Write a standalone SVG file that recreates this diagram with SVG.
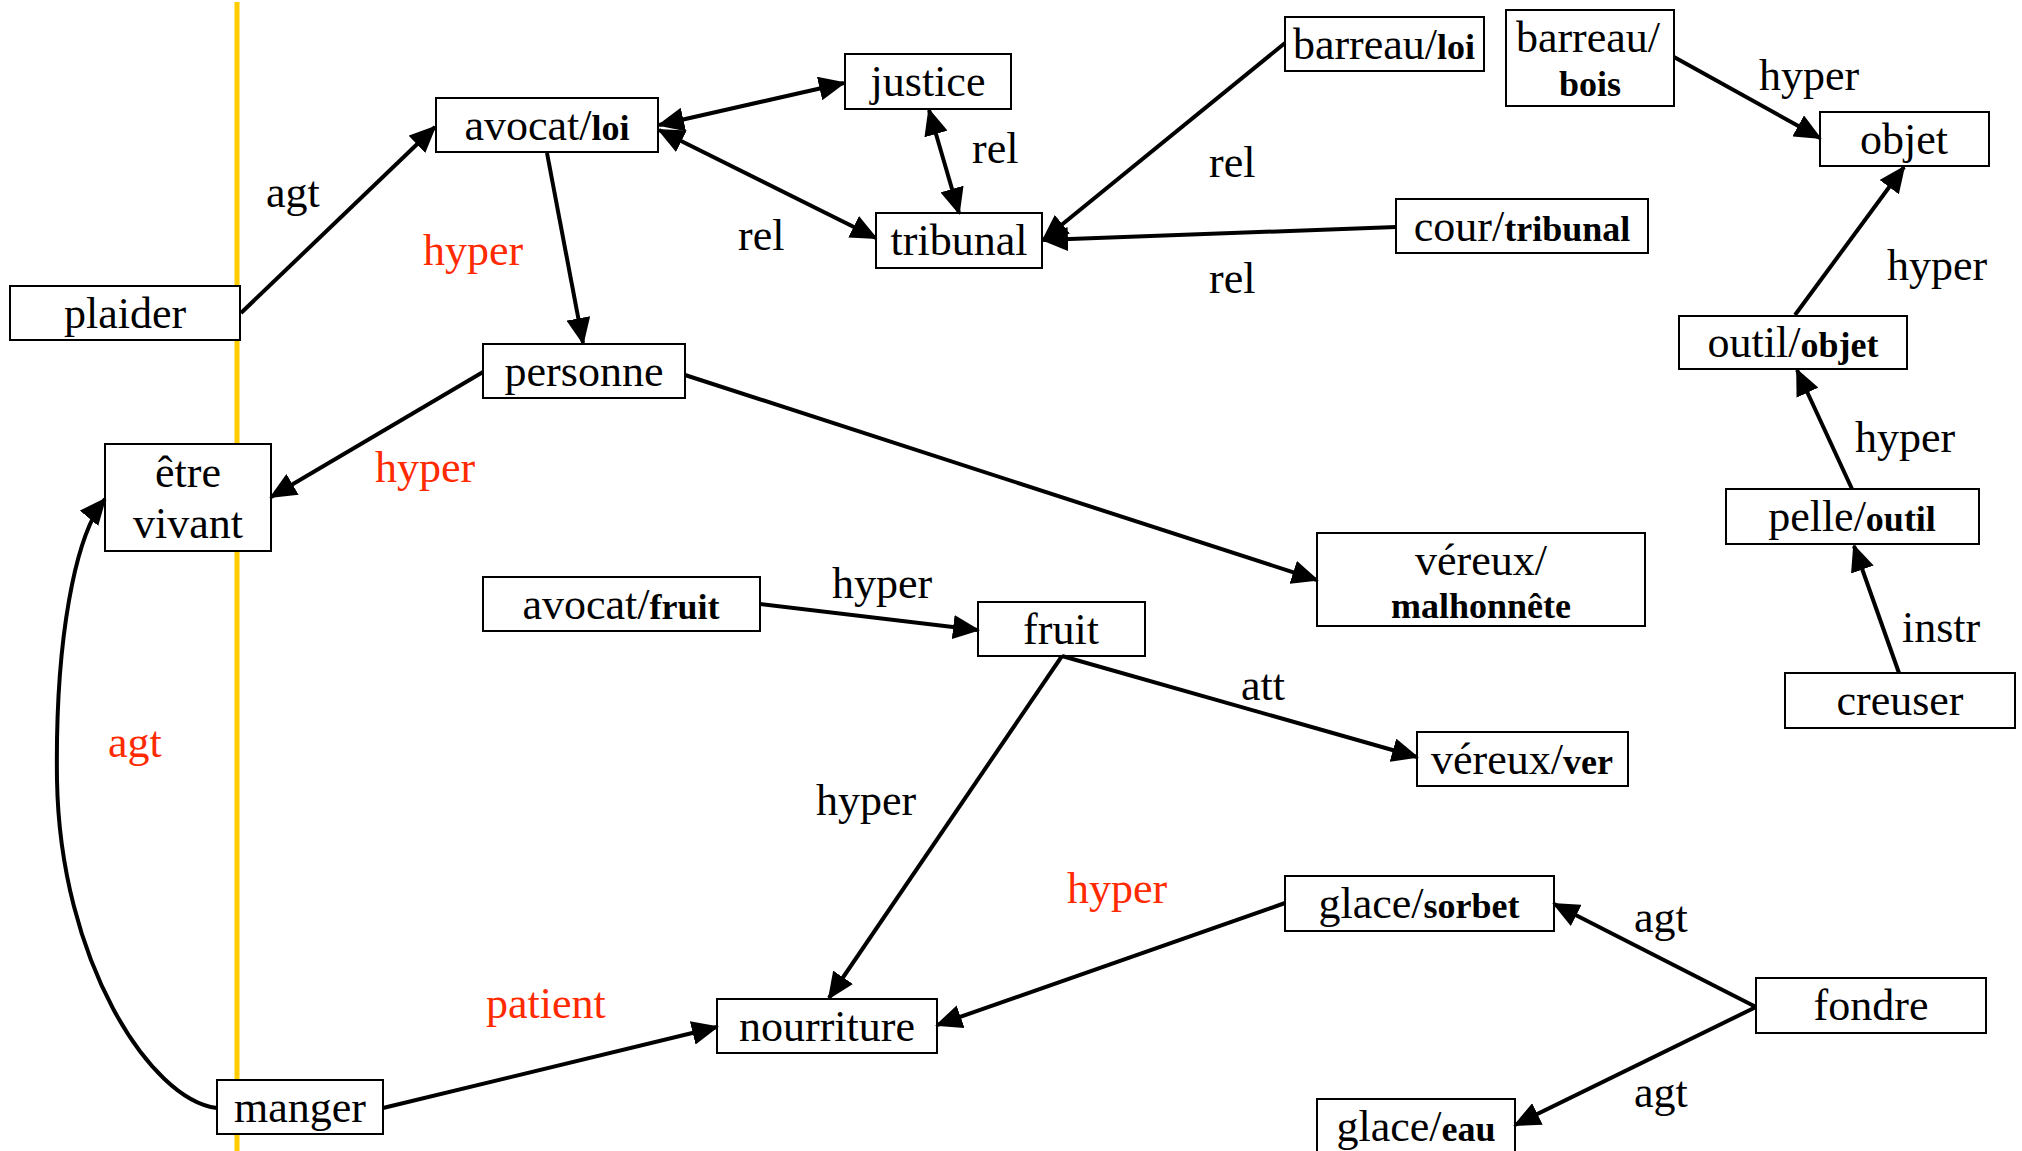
<svg xmlns="http://www.w3.org/2000/svg" width="2022" height="1151" viewBox="0 0 2022 1151">
  <defs>
    <marker id="head" markerUnits="userSpaceOnUse" markerWidth="27" markerHeight="24" refX="25" refY="12" orient="auto-start-reverse">
      <path d="M0,0 L27,12 L0,24 z" fill="#000"/>
    </marker>
    <style>
      .box { fill: #fff; stroke: #000; stroke-width: 2; }
      .t { font-family: "Liberation Serif", "Times New Roman", serif; font-size: 44px; fill: #000; text-anchor: middle; }
      .b { font-weight: bold; font-size: 36px; }
      .lbl { font-family: "Liberation Serif", "Times New Roman", serif; font-size: 44px; fill: #000; }
      .red { fill: #FF2A00; }
      .edge { fill: none; stroke: #000; stroke-width: 4; marker-end: url(#head); }
      .both { marker-start: url(#head); }
    </style>
  </defs>

  <rect width="2022" height="1151" fill="#fff"/>

  <!-- vertical separator -->
  <line x1="237" y1="2" x2="237" y2="1151" stroke="#FFCC00" stroke-width="5"/>

  <!-- nodes -->
  <g id="plaider"><rect class="box" x="10" y="286" width="230" height="54"/><text class="t" x="125" y="328">plaider</text></g>
  <g id="avocat-loi"><rect class="box" x="436" y="98" width="222" height="54"/><text class="t" x="547" y="140">avocat/<tspan class="b">loi</tspan></text></g>
  <g id="justice"><rect class="box" x="845" y="54" width="166" height="55"/><text class="t" x="928" y="96">justice</text></g>
  <g id="tribunal"><rect class="box" x="876" y="213" width="166" height="55"/><text class="t" x="959" y="255">tribunal</text></g>
  <g id="barreau-loi"><rect class="box" x="1285" y="17" width="199" height="54"/><text class="t" x="1384" y="59">barreau/<tspan class="b">loi</tspan></text></g>
  <g id="barreau-bois"><rect class="box" x="1506" y="10" width="168" height="96"/><text class="t" x="1588" y="52">barreau/</text><text class="t b" x="1590" y="96">bois</text></g>
  <g id="objet"><rect class="box" x="1820" y="112" width="169" height="54"/><text class="t" x="1904" y="154">objet</text></g>
  <g id="cour-tribunal"><rect class="box" x="1396" y="199" width="252" height="54"/><text class="t" x="1522" y="241">cour/<tspan class="b">tribunal</tspan></text></g>
  <g id="outil-objet"><rect class="box" x="1679" y="316" width="228" height="53"/><text class="t" x="1793" y="357">outil/<tspan class="b">objet</tspan></text></g>
  <g id="personne"><rect class="box" x="483" y="344" width="202" height="54"/><text class="t" x="584" y="386">personne</text></g>
  <g id="etre-vivant"><rect class="box" x="105" y="444" width="166" height="107"/><text class="t" x="188" y="487">être</text><text class="t" x="188" y="538">vivant</text></g>
  <g id="avocat-fruit"><rect class="box" x="483" y="577" width="277" height="54"/><text class="t" x="621" y="619">avocat/<tspan class="b">fruit</tspan></text></g>
  <g id="fruit"><rect class="box" x="978" y="602" width="167" height="54"/><text class="t" x="1061" y="644">fruit</text></g>
  <g id="vereux-malhonnete"><rect class="box" x="1317" y="533" width="328" height="93"/><text class="t" x="1481" y="575">véreux/</text><text class="t b" x="1481" y="618">malhonnête</text></g>
  <g id="pelle-outil"><rect class="box" x="1726" y="489" width="253" height="55"/><text class="t" x="1852" y="531">pelle/<tspan class="b">outil</tspan></text></g>
  <g id="creuser"><rect class="box" x="1785" y="673" width="230" height="55"/><text class="t" x="1900" y="715">creuser</text></g>
  <g id="vereux-ver"><rect class="box" x="1417" y="732" width="211" height="54"/><text class="t" x="1522" y="774">véreux/<tspan class="b">ver</tspan></text></g>
  <g id="manger"><rect class="box" x="217" y="1080" width="166" height="54"/><text class="t" x="300" y="1122">manger</text></g>
  <g id="nourriture"><rect class="box" x="717" y="999" width="220" height="54"/><text class="t" x="827" y="1041">nourriture</text></g>
  <g id="glace-sorbet"><rect class="box" x="1285" y="876" width="269" height="55"/><text class="t" x="1419" y="918">glace/<tspan class="b">sorbet</tspan></text></g>
  <g id="fondre"><rect class="box" x="1756" y="978" width="230" height="55"/><text class="t" x="1871" y="1020">fondre</text></g>
  <g id="glace-eau"><rect class="box" x="1317" y="1099" width="198" height="60"/><text class="t" x="1416" y="1141">glace/<tspan class="b">eau</tspan></text></g>

  <!-- connectors -->
  <g id="connectors">
    <line class="edge" x1="241" y1="313" x2="435" y2="127"/>
    <line class="edge" x1="547" y1="153" x2="583" y2="343"/>
    <line class="edge both" x1="659" y1="125" x2="844" y2="83"/>
    <line class="edge both" x1="659" y1="130" x2="876" y2="238"/>
    <line class="edge both" x1="929" y1="110" x2="959" y2="213"/>
    <line class="edge" x1="1285" y1="43" x2="1043" y2="240"/>
    <line class="edge" x1="1396" y1="227" x2="1043" y2="240"/>
    <line class="edge" x1="1674" y1="57" x2="1820" y2="138"/>
    <line class="edge" x1="1795" y1="315" x2="1904" y2="167"/>
    <line class="edge" x1="1852" y1="489" x2="1797" y2="370"/>
    <line class="edge" x1="1899" y1="673" x2="1854" y2="546"/>
    <line class="edge" x1="483" y1="372" x2="271" y2="497"/>
    <line class="edge" x1="685" y1="375" x2="1317" y2="580"/>
    <line class="edge" x1="760" y1="604" x2="978" y2="630"/>
    <line class="edge" x1="1062" y1="656" x2="1417" y2="757"/>
    <line class="edge" x1="1062" y1="656" x2="829" y2="998"/>
    <line class="edge" x1="383" y1="1108" x2="717" y2="1027"/>
    <line class="edge" x1="1285" y1="903" x2="937" y2="1025"/>
    <line class="edge" x1="1756" y1="1007" x2="1554" y2="904"/>
    <line class="edge" x1="1756" y1="1007" x2="1515" y2="1125"/>
    <path class="edge" d="M217,1108 C150,1100 60,960 57,780 C55,640 75,535 105,499"/>
  </g>

  <!-- relation labels -->
  <g id="labels">
    <text class="lbl" x="266" y="207">agt</text>
    <text class="lbl red" x="423" y="265">hyper</text>
    <text class="lbl" x="972" y="163">rel</text>
    <text class="lbl" x="738" y="250">rel</text>
    <text class="lbl" x="1209" y="177">rel</text>
    <text class="lbl" x="1209" y="293">rel</text>
    <text class="lbl" x="1759" y="90">hyper</text>
    <text class="lbl" x="1887" y="280">hyper</text>
    <text class="lbl" x="1855" y="452">hyper</text>
    <text class="lbl" x="1902" y="642">instr</text>
    <text class="lbl red" x="375" y="482">hyper</text>
    <text class="lbl" x="832" y="598">hyper</text>
    <text class="lbl" x="1241" y="700">att</text>
    <text class="lbl red" x="108" y="757">agt</text>
    <text class="lbl" x="816" y="815">hyper</text>
    <text class="lbl red" x="486" y="1018">patient</text>
    <text class="lbl red" x="1067" y="903">hyper</text>
    <text class="lbl" x="1634" y="932">agt</text>
    <text class="lbl" x="1634" y="1107">agt</text>
  </g>
</svg>
